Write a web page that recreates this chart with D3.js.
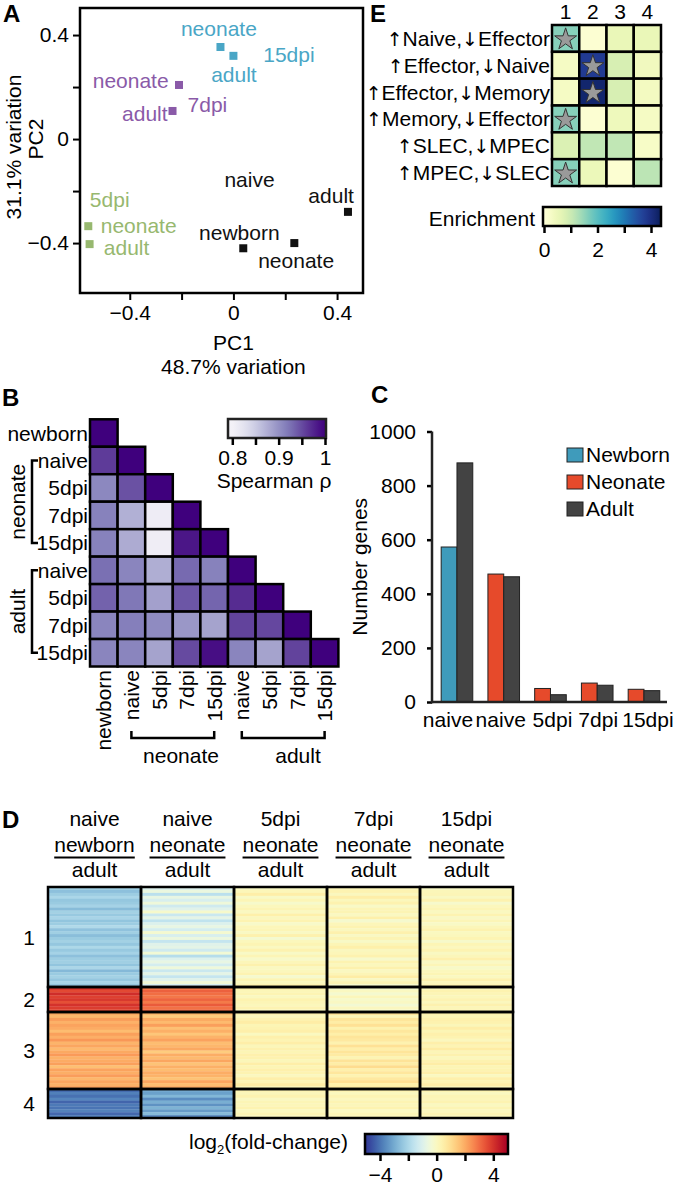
<!DOCTYPE html>
<html><head><meta charset="utf-8">
<script src="https://cdn.jsdelivr.net/npm/d3@7"></script>
<style>body{margin:0;background:#fff} svg{display:block}</style>
</head><body><svg id="fig" width="677" height="1192"></svg>
<script>
// ---------------- DATA ----------------
// Panel A: PCA
const pcaGroupOf = ["naive","naive","naive","5dpi","5dpi","7dpi","7dpi","15dpi","15dpi"];
const pcaPC1 = [0.038, 0.235, 0.442, -0.56, -0.555, -0.21, -0.235, -0.05, 0.0];
const pcaPC2 = [-0.42, -0.40, -0.28, -0.335, -0.404, 0.208, 0.108, 0.354, 0.32];
const pcaTicks = [-0.4, -0.2, 0, 0.2, 0.4];
const pcaTickLabels = ["\u22120.4", "", "0", "", "0.4"];
const pcaLabelText  = ["neonate","15dpi","adult","neonate","7dpi","adult","naive","adult","newborn","neonate","5dpi","neonate","adult"];
const pcaLabelGroup = ["15dpi","15dpi","15dpi","7dpi","7dpi","7dpi","naive","naive","naive","naive","5dpi","5dpi","5dpi"];
const pcaLabelPC1   = [-0.056, 0.115, 0.002, -0.25, -0.177, -0.254, 0.062, 0.377, 0.023, 0.242, -0.554, -0.512, -0.5];
const pcaLabelPC2   = [0.396, 0.296, 0.219, 0.196, 0.104, 0.069, -0.185, -0.246, -0.388, -0.496, -0.262, -0.362, -0.446];
const pcaLabelAnchor= ["middle","start","middle","end","start","end","middle","middle","middle","middle","start","start","start"];

// Panel B: Spearman correlation (lower triangle)
const corrSamples = ["newborn","naive","5dpi","7dpi","15dpi","naive","5dpi","7dpi","15dpi"];
const corrValues = [
  [1],
  [0.96, 1],
  [0.908, 0.946, 1],
  [0.913, 0.874, 0.81, 1],
  [0.913, 0.878, 0.808, 0.985, 1],
  [0.926, 0.91, 0.876, 0.93, 0.913, 1],
  [0.935, 0.92, 0.887, 0.943, 0.933, 0.97, 1],
  [0.91, 0.915, 0.905, 0.895, 0.885, 0.955, 0.952, 1],
  [0.91, 0.91, 0.885, 0.95, 0.99, 0.91, 0.885, 0.955, 1]
];
const corrTicks = [0.8, 0.85, 0.9, 0.95, 1];
const corrTickLabels = ["0.8", "", "0.9", "", "1"];

// Panel C: number of DE genes
const deCategories = ["naive","naive","5dpi","7dpi","15dpi"];
const deNewborn = [573, null, null, null, null];
const deNeonate = [null, 473, 50, 70, 47];
const deAdult   = [884, 463, 27, 62, 42];
const deTicks = [0, 200, 400, 600, 800, 1000];
const deSeries = ["Newborn","Neonate","Adult"];

// Panel D: log2 fold-change clusters
const fcHeaderTop = ["naive","naive","5dpi","7dpi","15dpi"];
const fcHeaderMid = ["newborn","neonate","neonate","neonate","neonate"];
const fcHeaderBot = ["adult","adult","adult","adult","adult"];
const fcClusters = ["1","2","3","4"];
const fcClusterSizes = [100, 25, 77, 29];
const fcMeans = [
  [-2.3, -1.0, 0.1, 0.15, 0.1],
  [3.8, 3.0, 0.2, -0.12, 0.2],
  [2.0, 1.8, 0.3, 0.6, 0.3],
  [-4.0, -3.2, 0.15, 0.15, 0.15]
];
const fcSpread = [
  [0.5, 1.0, 0.5, 0.5, 0.4],
  [0.5, 0.5, 0.3, 0.4, 0.3],
  [0.5, 0.6, 0.4, 0.6, 0.4],
  [0.5, 0.9, 0.3, 0.3, 0.3]
];
const fcTexture1 = [0.2,-0.5,0.1,0.6,-0.2,0.0,0.4,-0.7,0.3,-0.1,0.5,-0.3,0.1,0.8,-0.4,0.2,-0.6,0.0,0.3,-0.2,0.7,-0.1,0.4,-0.5,0.1,0.2,-0.3,0.6,-0.8,0.0,0.3,-0.2,0.5,-0.4];
const fcTexture2 = [0.3,-0.4,0.6,-0.1,0.2,-0.6,0.4,0.0,-0.3];
const fcTexture3 = [0.1,-0.4,0.5,-0.2,0.3,0.0,-0.6,0.4,-0.1,0.7,-0.3,0.2,-0.5,0.1,0.6,-0.2,0.0,0.4,-0.7,0.3,-0.1,0.5,-0.4,0.2,-0.2,0.3];
const fcTexture4 = [-0.3,0.4,-0.1,0.6,-0.5,0.2,0.0,0.5,-0.4,0.3];
const fcTicks = [-4, -2, 0, 2, 4];
const fcTickLabels = ["\u22124", "", "0", "", "4"];

// Panel E: enrichment
const enrichSets = ["\u2191Naive,\u2193Effector","\u2191Effector,\u2193Naive","\u2191Effector,\u2193Memory","\u2191Memory,\u2193Effector","\u2191SLEC,\u2193MPEC","\u2191MPEC,\u2193SLEC"];
const enrichClusters = ["1","2","3","4"];
const enrichValues = [
  [1.6, 0.1, 0.55, 0.55],
  [0.3, 3.8, 0.85, 0.4],
  [0.3, 4.2, 0.85, 0.35],
  [1.6, 0.1, 0.45, 0.3],
  [0.8, 1.1, 1.1, 0.25],
  [1.6, 0.5, 0.1, 1.15]
];
const enrichSignif = [[1,0,0,0],[0,1,0,0],[0,1,0,0],[1,0,0,0],[0,0,0,0],[1,0,0,0]];
const enrichTicks = [0, 1, 2, 3, 4];
const enrichTickLabels = ["0", "", "2", "", "4"];

// ---------------- DRAW ----------------
const FONT = "'Liberation Sans', Arial, Helvetica, sans-serif";
const svg = d3.select("#fig").attr("font-family", FONT).attr("font-size", 21);
const defs = svg.append("defs");

function styleAxis(g, sw) {
  g.attr("font-family", FONT).attr("font-size", 21);
  g.select(".domain").remove();
  g.selectAll(".tick line").attr("stroke", "#000").attr("stroke-width", sw || 2);
  g.selectAll(".tick text").attr("fill", "#000");
}
function letter(t, x, y) {
  svg.append("text").attr("x", x).attr("y", y).attr("font-weight", "bold").attr("font-size", 24).text(t);
}
function gradient(id, interp, n) {
  const lg = defs.append("linearGradient").attr("id", id);
  d3.range(n + 1).forEach(i => lg.append("stop").attr("offset", i / n).attr("stop-color", interp(i / n)));
}

// ===== Panel A =====
letter("A", 3, 22);
const groupColor = d3.scaleOrdinal().domain(["naive","5dpi","7dpi","15dpi"]).range(["#111111","#97b86f","#8a5aa8","#4aa6c6"]);
const xA = d3.scaleLinear().domain([-0.592, 0.5]).range([80, 363]);
const yA = d3.scaleLinear().domain([-0.592, 0.504]).range([293, 8]);
svg.append("g").attr("transform", "translate(80,0)")
  .call(d3.axisLeft(yA).tickValues(pcaTicks).tickSize(7).tickPadding(4).tickFormat((d, i) => pcaTickLabels[i]))
  .call(g => styleAxis(g));
svg.append("g").attr("transform", "translate(0,293)")
  .call(d3.axisBottom(xA).tickValues(pcaTicks).tickSize(7).tickPadding(5).tickFormat((d, i) => pcaTickLabels[i]))
  .call(g => styleAxis(g));
svg.append("rect").attr("x", 80).attr("y", 8).attr("width", 283).attr("height", 285)
  .attr("fill", "none").attr("stroke", "#000").attr("stroke-width", 2.5);
svg.append("g").selectAll("rect").data(pcaPC1).join("rect")
  .attr("x", (d, i) => xA(d) - 4).attr("y", (d, i) => yA(pcaPC2[i]) - 4)
  .attr("width", 8).attr("height", 8).attr("fill", (d, i) => groupColor(pcaGroupOf[i]));
svg.append("g").selectAll("text").data(pcaLabelText).join("text")
  .attr("x", (d, i) => xA(pcaLabelPC1[i])).attr("y", (d, i) => yA(pcaLabelPC2[i]))
  .attr("text-anchor", (d, i) => pcaLabelAnchor[i]).attr("fill", (d, i) => groupColor(pcaLabelGroup[i]))
  .text(d => d);
svg.append("text").attr("x", xA(0)).attr("y", 350).attr("text-anchor", "middle").text("PC1");
svg.append("text").attr("x", xA(0)).attr("y", 374).attr("text-anchor", "middle").text("48.7% variation");
svg.append("text").attr("transform", `translate(43,${yA(0)}) rotate(-90)`).attr("text-anchor", "middle").text("PC2");
svg.append("text").attr("transform", `translate(21,147) rotate(-90)`).attr("text-anchor", "middle").text("31.1% variation");

// ===== Panel B =====
letter("B", 2, 406);
const xB = d3.scaleBand().domain(d3.range(9)).range([90, 338.4]);
const yB = d3.scaleBand().domain(d3.range(9)).range([419.3, 666.5]);
const corrColor = d3.scaleSequential(t => d3.interpolatePurples(0.08 + 0.92 * t)).domain([0.8, 1]).clamp(true);
const corrCells = corrValues.flatMap((row, i) => row.map((v, j) => ({ i, j, v })));
svg.append("g").selectAll("rect").data(corrCells).join("rect")
  .attr("x", d => xB(d.j)).attr("y", d => yB(d.i))
  .attr("width", xB.bandwidth()).attr("height", yB.bandwidth())
  .attr("fill", d => corrColor(d.v)).attr("stroke", "#000").attr("stroke-width", 2.5);
svg.append("g").selectAll("text").data(corrSamples).join("text")
  .attr("x", 88).attr("y", (d, i) => yB(i) + yB.bandwidth() / 2 + 7.5)
  .attr("text-anchor", "end").text(d => d);
svg.append("g").selectAll("text").data(corrSamples).join("text")
  .attr("transform", (d, i) => `translate(${xB(i) + xB.bandwidth() / 2 + 7.5},670) rotate(-90)`)
  .attr("text-anchor", "end").text(d => d);
const bc = i => yB(i) + yB.bandwidth() / 2;
const cc = i => xB(i) + xB.bandwidth() / 2;
[[1, 4, "neonate"], [5, 8, "adult"]].forEach(([a, b, lab]) => {
  svg.append("path").attr("d", `M38,${bc(a)}H32V${bc(b)}H38`).attr("fill", "none").attr("stroke", "#000").attr("stroke-width", 2.5);
  svg.append("text").attr("transform", `translate(25,${(bc(a) + bc(b)) / 2}) rotate(-90)`).attr("text-anchor", "middle").text(lab);
});
[[1, 4, "neonate", 181], [5, 8, "adult", 298]].forEach(([a, b, lab, tx]) => {
  svg.append("path").attr("d", `M${cc(a)},731V738H${cc(b)}V731`).attr("fill", "none").attr("stroke", "#000").attr("stroke-width", 2.5);
  svg.append("text").attr("x", tx).attr("y", 763).attr("text-anchor", "middle").text(lab);
});
const xBbar = d3.scaleLinear().domain([0.8, 1]).range([232.3, 325]);
gradient("gradB", t => corrColor(xBbar.invert(228 + t * 98)), 20);
svg.append("rect").attr("x", 228).attr("y", 419).attr("width", 98).attr("height", 19)
  .attr("fill", "url(#gradB)").attr("stroke", "#222").attr("stroke-width", 2.5);
svg.append("g").attr("transform", "translate(0,438)")
  .call(d3.axisBottom(xBbar).tickValues(corrTicks).tickSize(7).tickPadding(5).tickFormat((d, i) => corrTickLabels[i]))
  .call(g => styleAxis(g, 2.5));
svg.append("text").attr("x", 274).attr("y", 488).attr("text-anchor", "middle").text("Spearman \u03c1");

// ===== Panel C =====
letter("C", 371, 403);
const x0C = d3.scaleBand().domain(d3.range(5)).range([433.6, 667.35]).paddingInner(0.324).paddingOuter(0.162);
const x1C = d3.scaleBand().domain([0, 1]).range([0, x0C.bandwidth()]);
const yC = d3.scaleLinear().domain([0, 1000]).range([702, 431.5]);
const seriesColor = d3.scaleOrdinal().domain(deSeries).range(["#3f9bbb", "#e64a2b", "#434343"]);
const barData = deCategories.flatMap((c, i) => {
  const first = deNewborn[i] != null ? { s: "Newborn", v: deNewborn[i] } : { s: "Neonate", v: deNeonate[i] };
  return [{ g: i, k: 0, ...first }, { g: i, k: 1, s: "Adult", v: deAdult[i] }];
});
svg.append("g").selectAll("rect").data(barData).join("rect")
  .attr("x", d => x0C(d.g) + x1C(d.k)).attr("y", d => yC(d.v))
  .attr("width", x1C.bandwidth()).attr("height", d => yC(0) - yC(d.v))
  .attr("fill", d => seriesColor(d.s)).attr("stroke", "#222").attr("stroke-width", 1);
svg.append("g").attr("transform", "translate(432,0)")
  .call(d3.axisLeft(yC).tickValues(deTicks).tickSize(5).tickPadding(11).tickFormat(d3.format("d")))
  .call(g => styleAxis(g, 2.5));
svg.append("line").attr("x1", 432).attr("x2", 432).attr("y1", yC(0) + 1.25).attr("y2", yC(1000)).attr("stroke", "#222").attr("stroke-width", 2.5);
svg.append("line").attr("x1", 431).attr("x2", 667).attr("y1", yC(0)).attr("y2", yC(0)).attr("stroke", "#222").attr("stroke-width", 2.5);
const catShift = [-9, -3, 2, 1, 4];
svg.append("g").selectAll("text").data(deCategories).join("text")
  .attr("x", (d, i) => x0C(i) + x0C.bandwidth() / 2 + catShift[i]).attr("y", 727)
  .attr("text-anchor", "middle").text(d => d);
svg.append("text").attr("transform", `translate(367,${yC(500)}) rotate(-90)`).attr("text-anchor", "middle").text("Number genes");
const legC = svg.append("g").selectAll("g").data(deSeries).join("g")
  .attr("transform", (d, i) => `translate(567,${448 + i * 27})`);
legC.append("rect").attr("width", 16).attr("height", 14).attr("fill", d => seriesColor(d)).attr("stroke", "#222").attr("stroke-width", 1);
legC.append("text").attr("x", 19).attr("y", 14).text(d => d);

// ===== Panel D =====
letter("D", 2, 828);
const xD = d3.scaleBand().domain(d3.range(5)).range([48, 513]);
const totalSize = d3.sum(fcClusterSizes);
const yD = d3.scaleLinear().domain([0, totalSize]).range([887, 1118]);
const cumStart = fcClusterSizes.map((s, i) => d3.sum(fcClusterSizes.slice(0, i)));
const fcColor = d3.scaleSequential(t => d3.interpolateRdYlBu(1 - t)).domain([-5, 5]).clamp(true);
const textures = [fcTexture1, fcTexture2, fcTexture3, fcTexture4];
const colShift = [0, 5, 11, 17, 23];
const stripes = [];
fcClusters.forEach((cl, k) => {
  const tex = textures[k];
  const n = tex.length;
  fcHeaderTop.forEach((h, c) => {
    tex.forEach((dv, s) => {
      const tv = tex[(s + colShift[c]) % n];
      stripes.push({ c, y0: cumStart[k] + fcClusterSizes[k] * s / n, y1: cumStart[k] + fcClusterSizes[k] * (s + 1) / n,
        v: fcMeans[k][c] + tv * fcSpread[k][c] });
    });
  });
});
svg.append("g").selectAll("rect").data(stripes).join("rect")
  .attr("x", d => xD(d.c)).attr("width", xD.bandwidth())
  .attr("y", d => yD(d.y0)).attr("height", d => yD(d.y1) - yD(d.y0) + 0.3)
  .attr("fill", d => fcColor(d.v));
const gridD = svg.append("g").attr("stroke", "#000").attr("stroke-width", 2.5).attr("fill", "none");
fcClusters.forEach((cl, k) => {
  fcHeaderTop.forEach((h, c) => {
    gridD.append("rect").attr("x", xD(c)).attr("y", yD(cumStart[k]))
      .attr("width", xD.bandwidth()).attr("height", yD(cumStart[k] + fcClusterSizes[k]) - yD(cumStart[k]));
  });
});
svg.append("g").selectAll("text").data(fcClusters).join("text")
  .attr("x", 29).attr("y", (d, k) => (yD(cumStart[k]) + yD(cumStart[k] + fcClusterSizes[k])) / 2 + 7.5)
  .attr("text-anchor", "middle").text(d => d);
const headD = svg.append("g").attr("text-anchor", "middle");
fcHeaderTop.forEach((h, c) => {
  const cx = xD(c) + xD.bandwidth() / 2;
  headD.append("text").attr("x", cx).attr("y", 826).text(h);
  const mid = headD.append("text").attr("x", cx).attr("y", 852).text(fcHeaderMid[c]);
  const w = mid.node().getComputedTextLength();
  headD.append("line").attr("x1", cx - w / 2).attr("x2", cx + w / 2).attr("y1", 857.5).attr("y2", 857.5).attr("stroke", "#000").attr("stroke-width", 2);
  headD.append("text").attr("x", cx).attr("y", 877).text(fcHeaderBot[c]);
});
const xDbar = d3.scaleLinear().domain([-4, 4]).range([380, 493.3]);
gradient("gradD", t => fcColor(xDbar.invert(365 + t * 143)), 30);
svg.append("rect").attr("x", 365).attr("y", 1134).attr("width", 143).attr("height", 20)
  .attr("fill", "url(#gradD)").attr("stroke", "#000").attr("stroke-width", 2.5);
svg.append("g").attr("transform", "translate(0,1154)")
  .call(d3.axisBottom(xDbar).tickValues(fcTicks).tickSize(7).tickPadding(6).tickFormat((d, i) => fcTickLabels[i]))
  .call(g => styleAxis(g, 2.5));
const logLab = svg.append("text").attr("x", 348).attr("y", 1149).attr("text-anchor", "end");
logLab.append("tspan").text("log");
logLab.append("tspan").attr("font-size", 13).attr("dy", 5).text("2");
logLab.append("tspan").attr("dy", -5).text("(fold-change)");

// ===== Panel E =====
letter("E", 370, 22);
const xE = d3.scaleBand().domain(d3.range(4)).range([552, 661]);
const yE = d3.scaleBand().domain(d3.range(6)).range([25, 186]);
const enrichColor = d3.scaleSequential(d3.interpolateYlGnBu).domain([0, 4.4]);
const enrichCells = enrichValues.flatMap((row, i) => row.map((v, j) => ({ i, j, v, s: enrichSignif[i][j] })));
svg.append("g").selectAll("rect").data(enrichCells).join("rect")
  .attr("x", d => xE(d.j)).attr("y", d => yE(d.i))
  .attr("width", xE.bandwidth()).attr("height", yE.bandwidth())
  .attr("fill", d => enrichColor(d.v)).attr("stroke", "#000").attr("stroke-width", 2.5);
svg.append("g").selectAll("path").data(enrichCells.filter(d => d.s)).join("path")
  .attr("transform", d => `translate(${xE(d.j) + xE.bandwidth() / 2},${yE(d.i) + yE.bandwidth() / 2 + 1})`)
  .attr("d", d3.symbol(d3.symbolStar, 150)())
  .attr("fill", "#9a9a9a").attr("stroke", "#333").attr("stroke-width", 1);
const rowLab = svg.append("g").selectAll("text").data(enrichSets).join("text")
  .attr("x", 550).attr("y", (d, i) => yE(i) + yE.bandwidth() / 2 + 7.5)
  .attr("text-anchor", "end").attr("fill", "#000");
rowLab.each(function (d) {
  const t = d3.select(this);
  d.split(/([\u2191\u2193])/).filter(s => s.length).forEach(seg => {
    const sp = t.append("tspan").text(seg);
    if (seg === "\u2191" || seg === "\u2193") sp.attr("font-family", "'DejaVu Sans'").attr("font-size", 19).attr("fill", "#000");
  });
});
svg.append("g").selectAll("text").data(enrichClusters).join("text")
  .attr("x", (d, i) => xE(i) + xE.bandwidth() / 2).attr("y", 19)
  .attr("text-anchor", "middle").text(d => d);
const xEbar = d3.scaleLinear().domain([0, 4]).range([544, 651]);
gradient("gradE", t => enrichColor(xEbar.invert(543 + t * 118)), 20);
svg.append("rect").attr("x", 543).attr("y", 207).attr("width", 118).attr("height", 19)
  .attr("fill", "url(#gradE)").attr("stroke", "#000").attr("stroke-width", 2.5);
svg.append("g").attr("transform", "translate(0,226)")
  .call(d3.axisBottom(xEbar).tickValues(enrichTicks).tickSize(7).tickPadding(9).tickFormat((d, i) => enrichTickLabels[i]))
  .call(g => styleAxis(g, 2.5));
svg.append("text").attr("x", 535).attr("y", 226).attr("text-anchor", "end").text("Enrichment");
</script>
</body></html>
